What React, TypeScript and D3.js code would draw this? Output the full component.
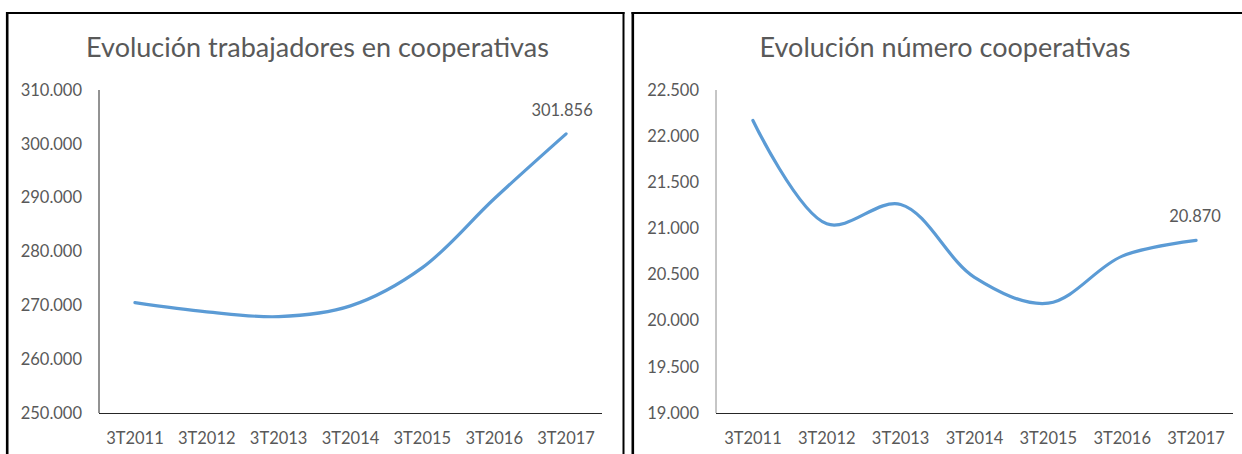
import React from "react";
import * as d3 from "d3";

const categories = ["3T2011", "3T2012", "3T2013", "3T2014", "3T2015", "3T2016", "3T2017"];
const trabajadores = [270500, 268800, 267900, 269900, 277000, 289800, 301856];
const cooperativas = [22170, 21050, 21260, 20470, 20190, 20700, 20870];
const ticksTrab = [250000, 260000, 270000, 280000, 290000, 300000, 310000];
const ticksCoop = [19000, 19500, 20000, 20500, 21000, 21500, 22000, 22500];
const titleTrab = "Evolución trabajadores en cooperativas";
const titleCoop = "Evolución número cooperativas";

const fmtThousands = (v: number) => {
  const s = Math.round(v).toString();
  return s.replace(/\B(?=(\d{3})+(?!\d))/g, ".");
};

const FONT = "Lato, 'Open Sans', sans-serif";
const TXT = "#595959";
const LINE = "#5B9BD5";

type PanelProps = {
  plotLeft: number;
  plotRight: number;
  titleX: number;
  title: string;
  values: number[];
  ticks: number[];
  domain: [number, number];
  yAxisColor: string;
  labelShift: number;
};

function Panel({ plotLeft, plotRight, titleX, title, values, ticks, domain, yAxisColor, labelShift }: PanelProps) {
  const top = 90;
  const bottom = 413;
  const x = d3.scaleBand<string>().domain(categories).range([plotLeft, plotRight]).padding(0);
  const y = d3.scaleLinear().domain(domain).range([bottom, top]);
  const cx = (c: string) => (x(c) as number) + x.bandwidth() / 2;
  const line = d3
    .line<number>()
    .x((_, i) => cx(categories[i]))
    .y((d) => y(d))
    .curve(d3.curveCatmullRom.alpha(0.5));
  const last = values[values.length - 1];
  const lastCat = categories[categories.length - 1];
  return (
    <g fontFamily={FONT} fill={TXT}>
      <text x={titleX} y={57} textAnchor="middle" fontSize={27}>
        {title}
      </text>
      {ticks.map((t) => (
        <text key={t} x={plotLeft - 17} y={y(t)} dy="0.35em" textAnchor="end" fontSize={16.5}>
          {fmtThousands(t)}
        </text>
      ))}
      {categories.map((c) => (
        <text key={c} x={cx(c)} y={444} textAnchor="middle" fontSize={16.5}>
          {c}
        </text>
      ))}
      <line x1={plotLeft} x2={plotLeft} y1={top} y2={bottom} stroke={yAxisColor} strokeWidth={1} />
      <line x1={plotLeft} x2={plotRight} y1={bottom + 0.5} y2={bottom + 0.5} stroke="#262626" strokeWidth={1} />
      <path d={line(values) || ""} fill="none" stroke={LINE} strokeWidth={3.2} strokeLinecap="round" />
      <text x={cx(lastCat) + labelShift} y={y(last) - 18} textAnchor="middle" fontSize={16.5}>
        {fmtThousands(last)}
      </text>
    </g>
  );
}

export default function App() {
  return (
    <div style={{ position: "absolute", left: 0, top: 0 }}>
      <svg width={1242} height={454} style={{ display: "block", background: "#fff" }}>
        <rect x={0} y={0} width={1242} height={454} fill="#fff" />
        <line x1={7.2} x2={7.2} y1={12} y2={454} stroke="#000" strokeWidth={2.6} />
        <line x1={6} x2={624.5} y1={13} y2={13} stroke="#000" strokeWidth={2} />
        <line x1={623.5} x2={623.5} y1={12} y2={454} stroke="#000" strokeWidth={2} />
        <line x1={632.8} x2={632.8} y1={12} y2={454} stroke="#000" strokeWidth={2.6} />
        <line x1={631.5} x2={1242} y1={13} y2={13} stroke="#000" strokeWidth={2} />
        <Panel
          plotLeft={99}
          plotRight={602}
          titleX={317.5}
          title={titleTrab}
          values={trabajadores}
          ticks={ticksTrab}
          domain={[250000, 310000]}
          yAxisColor="#262626"
          labelShift={-4}
        />
        <Panel
          plotLeft={716}
          plotRight={1233}
          titleX={945}
          title={titleCoop}
          values={cooperativas}
          ticks={ticksCoop}
          domain={[19000, 22500]}
          yAxisColor="#8c8c8c"
          labelShift={-1}
        />
      </svg>
    </div>
  );
}
